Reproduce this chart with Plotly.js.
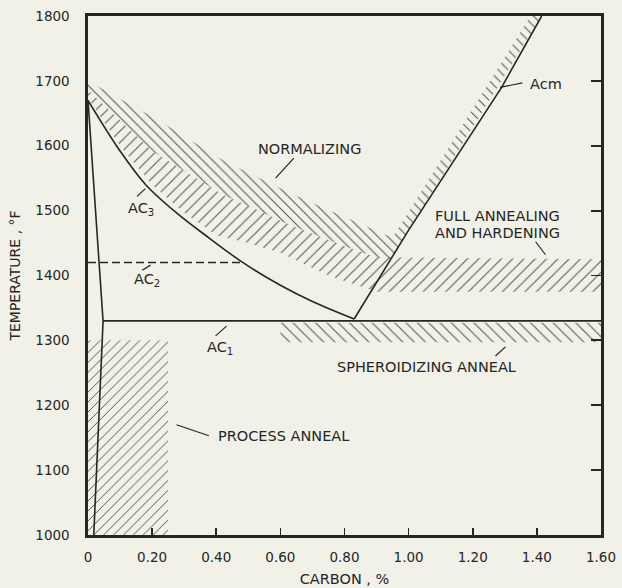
<!DOCTYPE html>
<html><head><meta charset="utf-8">
<script src="https://cdn.plot.ly/plotly-3.0.1.min.js"></script>
<style>html,body{margin:0;padding:0;background:#f1f1e7;}#chart{width:622px;height:588px;}</style>
</head><body><div id="chart"></div>
<script>
// ---------- data: carbon (%) vs temperature (°F) ----------
const xTickVals = [0, 0.2, 0.4, 0.6, 0.8, 1.0, 1.2, 1.4, 1.6];
const xTickText = ['0', '0.20', '0.40', '0.60', '0.80', '1.00', '1.20', '1.40', '1.60'];
const yTickVals = [1000, 1100, 1200, 1300, 1400, 1500, 1600, 1700, 1800];
const yTickText = ['1000', '1100', '1200', '1300', '1400', '1500', '1600', '1700', '1800'];

// phase boundary lines
const ferriteC = [0, 0.047, 0.018];
const ferriteT = [1670, 1330, 1000];
const ac3C = [0, 0.1, 0.18, 0.28, 0.38, 0.48, 0.6, 0.7, 0.83];
const ac3T = [1670, 1592, 1540, 1495, 1457, 1421, 1385, 1360, 1333];
const acmC = [0.83, 1.00, 1.29, 1.415];
const acmT = [1333, 1470, 1690, 1800];
const ac2C = [0, 0.48];
const ac2T = [1420, 1420];
const ac1C = [0.047, 1.6];
const ac1T = [1330, 1330];

// hatched treatment ranges (outlines)
const normC = [0, 0.21, 0.42, 0.63, 0.82, 0.95, 1.38, 1.415, 0.944, 0.9, 0.8, 0.63, 0.42, 0.2, 0];
const normT = [1700, 1642, 1578, 1527, 1486, 1458, 1800, 1800, 1425, 1428, 1445, 1478, 1525, 1592, 1686];
const annealC = [0, 0.2, 0.42, 0.63, 0.8, 0.9, 1.6, 1.6, 0.9, 0.75, 0.6, 0.5, 0.4, 0.3, 0.2, 0.1, 0];
const annealT = [1686, 1592, 1525, 1478, 1445, 1428, 1425, 1375, 1375, 1400, 1435, 1450, 1462, 1497, 1540, 1600, 1674];
const spheroC = [0.6, 1.6, 1.6, 0.6];
const spheroT = [1297, 1297, 1327, 1327];
const processC = [0, 0.25, 0.25, 0];
const processT = [1000, 1000, 1300, 1300];

// ---------- styling ----------
const INK = '#262626';
const HATCH = '#555555';
const BG = '#f1f1e7';
const FONT = 'DejaVu Sans, Verdana, sans-serif';

function hatch(x, y, shape, size, solidity) {
  return {x: x, y: y, mode: 'none', fill: 'toself', fillcolor: 'rgba(0,0,0,0)',
    fillpattern: {shape: shape, size: size, solidity: solidity, fgcolor: HATCH, bgcolor: 'rgba(0,0,0,0)', fillmode: 'replace'},
    hoverinfo: 'skip', showlegend: false};
}
function line(x, y, opts) {
  return Object.assign({x: x, y: y, mode: 'lines', line: {color: INK, width: 1.6}, hoverinfo: 'skip', showlegend: false}, opts || {});
}

const traces = [
  hatch(processC, processT, '/', 7, 0.14),
  hatch(spheroC, spheroT, '\\', 8, 0.13),
  hatch(annealC, annealT, '/', 8, 0.13),
  hatch(normC, normT, '\\', 7, 0.15),
  line(ferriteC, ferriteT),
  line(ac3C, ac3T, {line: {color: INK, width: 1.6, shape: 'spline', smoothing: 1}}),
  line(acmC, acmT),
  line(ac2C, ac2T, {line: {color: INK, width: 1.4, dash: '8px,4px'}}),
  line(ac1C, ac1T, {yaxis: 'y2'})
];

const txt = {family: FONT, size: 14.5, color: INK};
function label(x, y, text, xanchor) {
  return {x: x, y: y, xref: 'x', yref: 'y', text: text, showarrow: false, xanchor: xanchor || 'left', yanchor: 'middle', font: txt};
}
const annotations = [
  label(0.525, 1595, 'NORMALIZING'),
  label(0.117, 1503, 'AC<sub>3</sub>'),
  label(0.138, 1393, 'AC<sub>2</sub>'),
  label(0.366, 1288, 'AC<sub>1</sub>'),
  label(1.372, 1695, 'Acm'),
  label(1.075, 1491, 'FULL ANNEALING'),
  label(1.075, 1466, 'AND HARDENING'),
  label(0.77, 1259, 'SPHEROIDIZING ANNEAL'),
  label(0.398, 1153, 'PROCESS ANNEAL')
];
function leader(x0, y0, x1, y1) {
  return {type: 'line', xref: 'x', yref: 'y', x0: x0, y0: y0, x1: x1, y1: y1, line: {color: INK, width: 1.2}};
}
const shapes = [
  leader(0.642, 1581, 0.585, 1550),
  leader(0.153, 1522, 0.179, 1534),
  leader(0.169, 1408, 0.195, 1416),
  leader(0.398, 1307, 0.432, 1322),
  leader(1.285, 1690, 1.355, 1697),
  leader(1.396, 1452, 1.427, 1432),
  leader(1.302, 1290, 1.271, 1276),
  leader(0.276, 1170, 0.377, 1153)
];

const layout = {
  width: 622, height: 588,
  margin: {l: 88, r: 21, t: 16, b: 53, pad: 0},
  paper_bgcolor: BG, plot_bgcolor: BG,
  showlegend: false,
  font: {family: FONT, size: 13, color: INK},
  xaxis: {
    range: [0, 1.6], tickvals: xTickVals, ticktext: xTickText,
    ticks: 'inside', ticklen: 7, tickwidth: 1.6, tickcolor: INK,
    showline: true, linewidth: 2.6, linecolor: INK, mirror: true,
    showgrid: false, zeroline: false, ticklabelstandoff: 8,
    tickfont: {family: FONT, size: 13.5, color: INK},
    title: {text: 'CARBON , %', font: {family: FONT, size: 14.5, color: INK}, standoff: 10}
  },
  yaxis: {
    range: [1000, 1800], tickvals: yTickVals, ticktext: yTickText,
    ticks: '', showline: true, linewidth: 2.6, linecolor: INK, mirror: true,
    showgrid: false, zeroline: false, ticklabelstandoff: 13,
    tickfont: {family: FONT, size: 13.5, color: INK},
    title: {text: 'TEMPERATURE , °F', font: {family: FONT, size: 14, color: INK}, standoff: 12}
  },
  yaxis2: {
    range: [1000, 1800], overlaying: 'y', side: 'right', anchor: 'x',
    tickvals: yTickVals, ticks: 'inside', ticklen: 10, tickwidth: 1.8, tickcolor: INK,
    showticklabels: false, showline: false, showgrid: false, zeroline: false
  },
  annotations: annotations,
  shapes: shapes
};

Plotly.newPlot('chart', traces, layout, {staticPlot: true, displayModeBar: false});
</script>
</body></html>
